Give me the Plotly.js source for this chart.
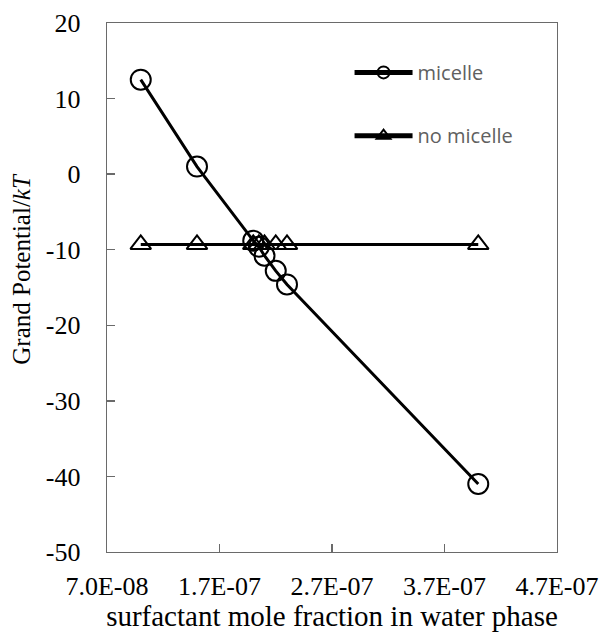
<!DOCTYPE html>
<html>
<head>
<meta charset="utf-8">
<script src="https://cdn.plot.ly/plotly-3.0.1.min.js"></script>
<style>body{margin:0;padding:0;background:#fff}#chart{width:605px;height:635px}</style>
</head>
<body>
<div id="chart"></div>
<script>
// Data
var xFraction = [1.0e-7, 1.5e-7, 2.0e-7, 2.05e-7, 2.1e-7, 2.2e-7, 2.3e-7, 4.0e-7];
var micelle = [12.5, 1.0, -8.8, -9.6, -10.8, -12.8, -14.6, -41.0];
var noMicelle = [-9.3, -9.3, -9.3, -9.3, -9.3, -9.3, -9.3, -9.3];
var xTickVals = [7e-8, 1.7e-7, 2.7e-7, 3.7e-7, 4.7e-7];
var xTickText = ['7.0E-08', '1.7E-07', '2.7E-07', '3.7E-07', '4.7E-07'];
var yTickVals = [-50, -40, -30, -20, -10, 0, 10, 20];
var yTickText = ['-50', '-40', '-30', '-20', '-10', '0', '10', '20'];

var serif = 'Liberation Serif, Times New Roman, serif';

var traces = [
  {x: xFraction, y: micelle, name: 'micelle', type: 'scatter', mode: 'lines+markers',
   line: {color: '#000', width: 3},
   marker: {symbol: 'circle-open', size: 20, color: '#000', line: {width: 2, color: '#000'}},
   legend: 'legend'},
  {x: xFraction, y: noMicelle, name: 'no micelle', type: 'scatter', mode: 'lines+markers',
   line: {color: '#000', width: 3},
   marker: {symbol: 'triangle-up-open', size: 18, color: '#000', line: {width: 2, color: '#000'}},
   legend: 'legend2'}
];

var axisCommon = {
  showgrid: false, zeroline: false, showline: true, mirror: true,
  linecolor: '#6a6a6a', linewidth: 1.3,
  ticks: 'inside', ticklen: 8, tickwidth: 1.3, tickcolor: '#6a6a6a',
  tickfont: {family: serif, size: 26, color: '#000'}
};

var layout = {
  width: 605, height: 635,
  margin: {l: 107, r: 48, t: 23, b: 83},
  paper_bgcolor: '#fff', plot_bgcolor: '#fff',
  showlegend: true,
  xaxis: Object.assign({}, axisCommon, {
    range: [7e-8, 4.7e-7], tickmode: 'array', tickvals: xTickVals, ticktext: xTickText,
    ticklabelstandoff: 10,
    title: {text: 'surfactant mole fraction in water phase', standoff: 4,
            font: {family: serif, size: 29, color: '#000'}}
  }),
  yaxis: Object.assign({}, axisCommon, {
    range: [-50, 20], tickmode: 'array', tickvals: yTickVals, ticktext: yTickText,
    ticklabelstandoff: 20
  }),
  annotations: [{
    text: 'Grand Potential/<i>kT</i>', textangle: -90, showarrow: false,
    xref: 'paper', yref: 'paper', x: 0, y: 0.5355, xanchor: 'center', yanchor: 'middle',
    xshift: -85, font: {family: serif, size: 25, color: '#000'}
  }],
  legend: {x: 0.539, y: 0.9066, xanchor: 'left', yanchor: 'middle', bgcolor: 'rgba(0,0,0,0)',
           itemwidth: 58, itemsizing: 'constant',
           font: {family: 'Open Sans, sans-serif', size: 20, color: '#606060'}},
  legend2: {x: 0.539, y: 0.787, xanchor: 'left', yanchor: 'middle', bgcolor: 'rgba(0,0,0,0)',
           itemwidth: 58, itemsizing: 'constant',
           font: {family: 'Open Sans, sans-serif', size: 20, color: '#606060'}}
};

Plotly.newPlot('chart', traces, layout, {displayModeBar: false, staticPlot: true});
</script>
</body>
</html>
